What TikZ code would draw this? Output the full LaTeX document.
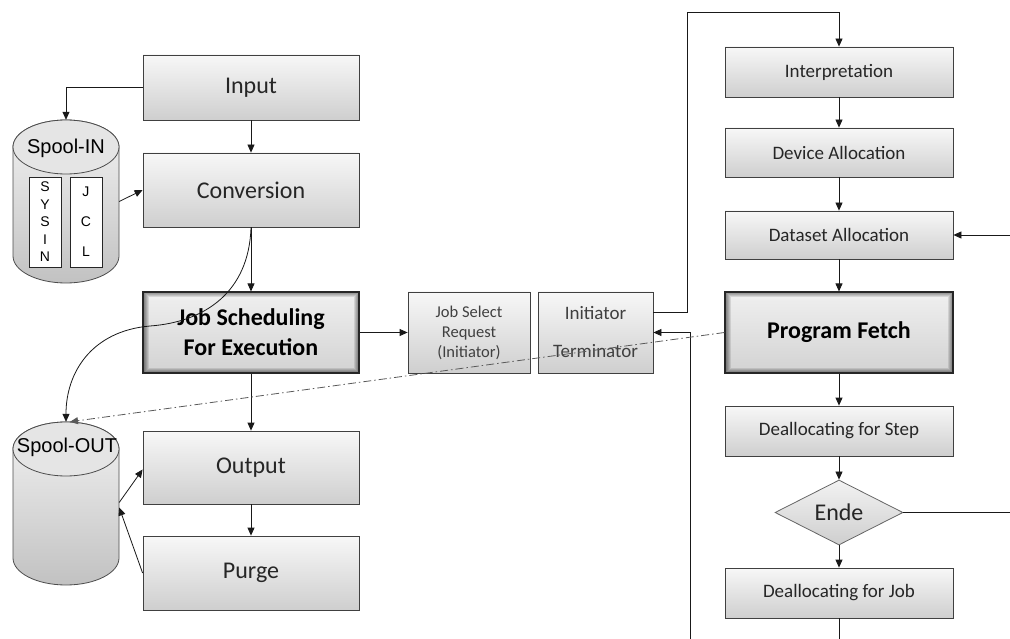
\documentclass[tikz,border=0pt]{standalone}
\usepackage{fontspec}
\setmainfont{Carlito}
\newfontfamily\arialf{Liberation Sans}
\usetikzlibrary{arrows.meta,shapes.geometric,calc}
\tikzset{
  box/.style={draw=black!75, line width=0.8pt, top color=gray!6, bottom color=gray!38,
    text=black!85, minimum width=216pt, inner sep=0pt, align=center},
  bigbox/.style={draw=black!85, line width=1.1pt, top color=gray!12, bottom color=gray!35,
    text=black, minimum width=216pt, inner sep=0pt, align=center,
    font=\bfseries\fontsize{24}{30}\selectfont,
    path picture={\foreach \w in {3,5,7,9,11}
      \draw[black, opacity=0.1, line width=\w pt]
        (path picture bounding box.south west) rectangle (path picture bounding box.north east);}},
  rbox/.style={box, minimum width=228pt},
  conn/.style={draw=black!90, line width=0.8pt},
  arr/.style={conn, -{Triangle[length=8pt,width=7pt]}},
  dd/.style={draw=black!65, line width=0.8pt, dash pattern=on 8pt off 3pt on 1.5pt off 3pt,
    -{Triangle[length=8pt,width=7pt]}},
  cylbody/.style={draw=black!70, line width=0.8pt, top color=gray!10, bottom color=gray!48},
  cyltop/.style={draw=black!70, line width=0.8pt, fill=gray!20},
  bigf/.style={font=\fontsize{24}{29}\selectfont},
  midf/.style={font=\fontsize{19}{23}\selectfont}
}
\begin{document}
\begin{tikzpicture}[x=1pt,y=-1pt]
\useasboundingbox (0,0) rectangle (1010,639);

% ---------- cylinders ----------
\path[cylbody] (13,147) -- (13,256) arc[start angle=180,end angle=360,x radius=53pt,y radius=27pt]
  -- (119,147) arc[start angle=0,end angle=180,x radius=53pt,y radius=27pt] -- cycle;
\path[cyltop] (66,147) ellipse[x radius=53pt,y radius=27pt];
\node[font=\arialf\fontsize{20}{24}\selectfont, inner sep=0pt] (spintxt) at (66,148) {Spool-IN};
\node[draw=black!85, fill=white, line width=0.7pt, minimum width=32pt, minimum height=90pt, inner sep=0pt,
  align=center, font=\arialf\fontsize{14}{17.5}\selectfont] (sysin) at (45,222) {S\\Y\\S\\I\\N};
\node[draw=black!85, fill=white, line width=0.7pt, minimum width=32pt, minimum height=90pt, inner sep=0pt,
  align=center, font=\arialf\fontsize{14}{30}\selectfont] (jcl) at (86,222) {J\\C\\L};
\node[minimum width=106pt, minimum height=163pt, inner sep=0pt] (spin) at (66,201.5) {};

\path[cylbody] (13,449) -- (13,558) arc[start angle=180,end angle=360,x radius=53pt,y radius=27pt]
  -- (119,449) arc[start angle=0,end angle=180,x radius=53pt,y radius=27pt] -- cycle;
\path[cyltop] (66,449) ellipse[x radius=53pt,y radius=27pt];
\node[font=\arialf\fontsize{20}{24}\selectfont, inner sep=0pt] (spouttxt) at (67,447) {Spool-OUT};
\node[minimum width=106pt, minimum height=163pt, inner sep=0pt] (spout) at (66,503.5) {};

% ---------- left column ----------
\node[box, bigf, minimum height=65pt] (input) at (251,87.5) {Input};
\node[box, bigf, minimum height=74pt] (conv) at (251,190) {Conversion};
\node[bigbox, minimum height=81pt] (job) at (251,332.5) {Job Scheduling\\For Execution};
\node[box, bigf, minimum height=73pt] (output) at (251,467.5) {Output};
\node[box, bigf, minimum height=74pt] (purge) at (251,573) {Purge};

% ---------- middle ----------
\node[box, minimum width=122pt, minimum height=81pt, text=black!75,
  font=\fontsize{16.5}{20}\selectfont] (jsr) at (469,332.5) {Job Select\\Request\\(Initiator)};
\node[box, minimum width=115pt, minimum height=81pt, text=black!75, midf] (init) at (595.5,332.5)
  {Initiator\\[15pt]Terminator};

% ---------- right column ----------
\node[rbox, midf, minimum height=50pt] (interp) at (839,72) {Interpretation};
\node[rbox, midf, minimum height=49pt] (dev) at (839,152.5) {Device Allocation};
\node[rbox, midf, minimum height=48pt] (data) at (839,235) {Dataset Allocation};
\node[bigbox, minimum width=228pt, minimum height=81pt] (pf) at (839,332.5) {Program Fetch};
\node[rbox, midf, minimum height=50pt] (dstep) at (839,431) {Deallocating for Step};
\node[diamond, draw=black!60, line width=0.8pt, top color=gray!10, bottom color=gray!38,
  minimum width=128pt, minimum height=65pt, aspect=2, inner sep=0pt, text=black!85, bigf] (ende) at (839,512.5) {Ende};
\node[rbox, midf, minimum height=50pt] (djob) at (839,593) {Deallocating for Job};

% ---------- free ends ----------
\coordinate (inR) at (1010,235);
\coordinate (endeR) at (1010,512.5);
\coordinate (djobB) at (839,639);
\coordinate (retB) at (690,639);
\coordinate (retC) at (690,332.5);
\coordinate (topL) at (687,12);
\coordinate (topR) at (839,12);
\coordinate (initOut) at ($(init.north east)!0.25!(init.south east)$);

% ---------- connectors ----------
\draw[arr] (input.west) -| (spin.north);
\draw[arr] (spin.east) -- (conv.west);
\draw[arr] (input.south) -- (conv.north);
\draw[arr] (conv.south) -- (job.north);
\draw[conn, -{Triangle[length=8pt,width=7pt]}] (conv.south) .. controls (249,292) and (205,322) .. (150,326)
  .. controls (92,331) and (66,372) .. (spout.north);
\draw[arr] (job.east) -- (jsr.west);
\draw[arr] (job.south) -- (output.north);
\draw[arr] (output.south) -- (purge.north);
\draw[arr] ($(spout.east)+(0,-1)$) -- ($(output.west)+(0,2)$);
\draw[arr] (purge.west) -- ($(spout.east)+(0,4)$);
\draw[arr] (initOut) -| (topL) -- (topR) -- (interp.north);
\draw[arr] (interp) -- (dev);
\draw[arr] (dev) -- (data);
\draw[arr] (data) -- (pf);
\draw[arr] (pf) -- (dstep);
\draw[arr] (dstep) -- (ende);
\draw[arr] (ende) -- (djob);
\draw[arr] (inR) -- (data.east);
\draw[conn] (ende.east) -- (endeR);
\draw[conn] (djob.south) -- (djobB);
\draw[arr] (retB) -- (retC) -- (init.east);
\draw[dd] (pf.west) -- ($(spout.north)+(4,0)$);
\end{tikzpicture}
\end{document}
